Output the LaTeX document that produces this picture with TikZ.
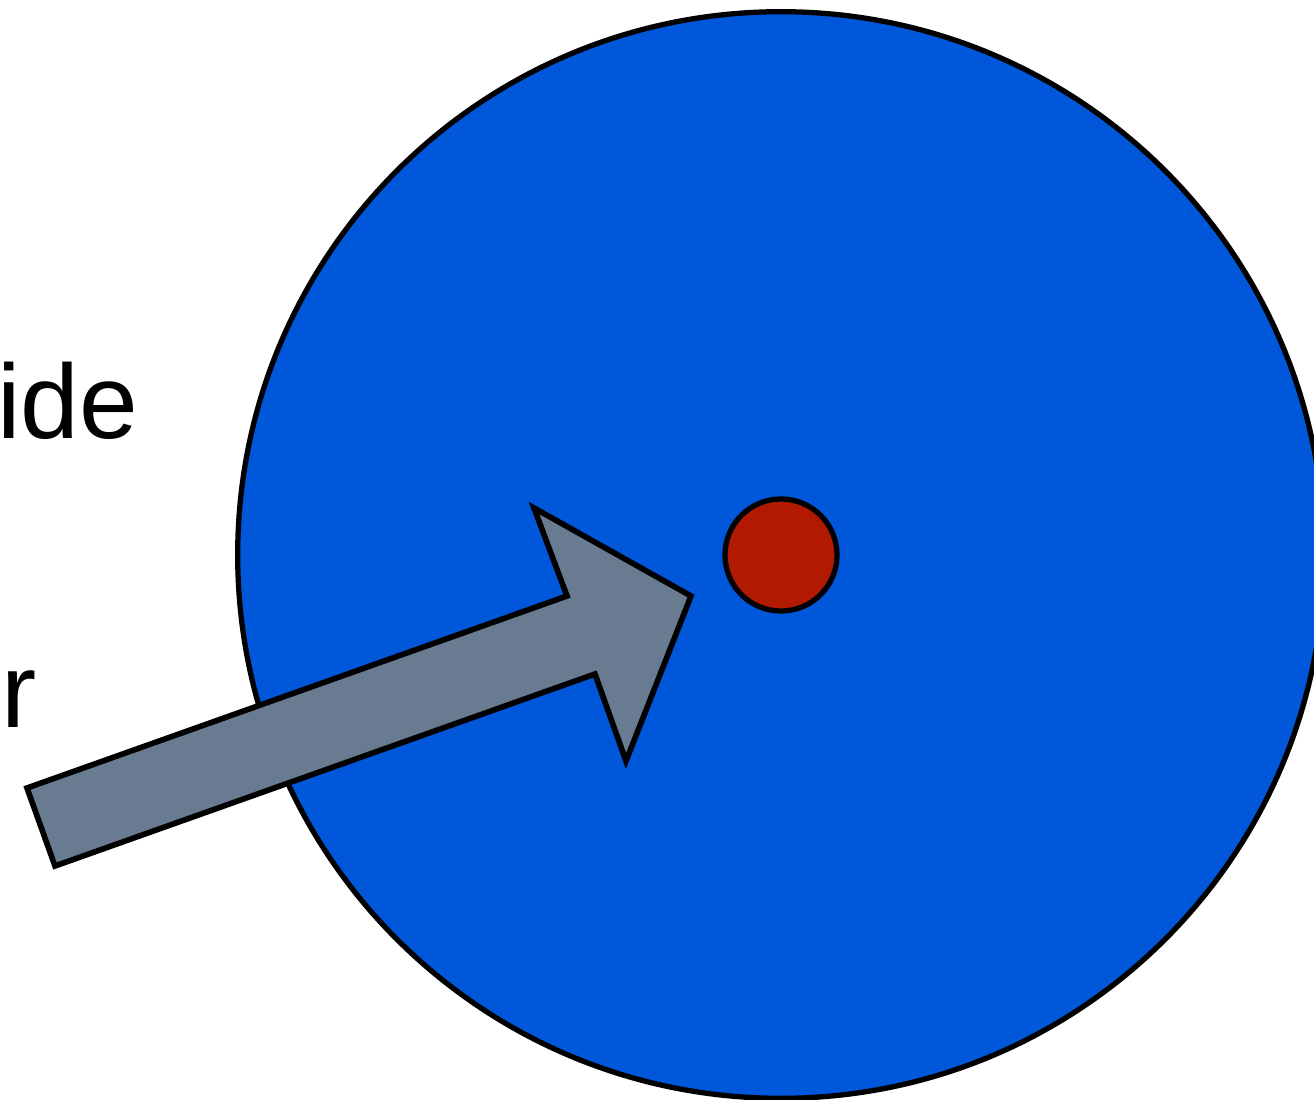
\documentclass[tikz,border=0pt]{standalone}
\usepackage{fontspec}
\setmainfont{Liberation Sans}
\usepackage{xcolor}
\usetikzlibrary{positioning}
\definecolor{diskblue}{HTML}{0057D9}
\definecolor{corered}{HTML}{B11A00}
\definecolor{arrowgray}{HTML}{687B90}

\begin{document}
\begin{tikzpicture}[x=0.01cm, y=-0.01cm, line width=1.5pt]
    \tikzstyle{disk} = [circle, draw=black, fill=diskblue, line width=1.5pt, minimum size=10.86cm, inner sep=0pt]
    \tikzstyle{core} = [circle, draw=black, fill=corered, line width=1.5pt, minimum size=1.12cm, inner sep=0pt]
    \tikzstyle{label} = [anchor=base east, inner sep=0pt, font=\fontsize{30}{36}\selectfont]
    \tikzstyle{pointer} = [draw=black, fill=arrowgray, line width=1.6pt, line join=miter]

    \useasboundingbox (0,0) rectangle (1314,1100);
    \clip (0,0) rectangle (1314,1100);

    % labels, cut at the left edge
    \node [label] (t1) at (141,438) {ide};
    \node [label] (t2) at (39,727) {r};

    % big disk and the centre dot
    \node [disk] (d) at (781,555) {};
    \node [core, at=(d.center)] (c) {};

    % block arrow pointing at the dot
    \coordinate (tip) at (691,596);
    \path [pointer] (55,866) -- (27,788) -- (567,596) -- (534,508)
        -- (tip) -- (626,761) -- (595,674) -- cycle;
\end{tikzpicture}
\end{document}
